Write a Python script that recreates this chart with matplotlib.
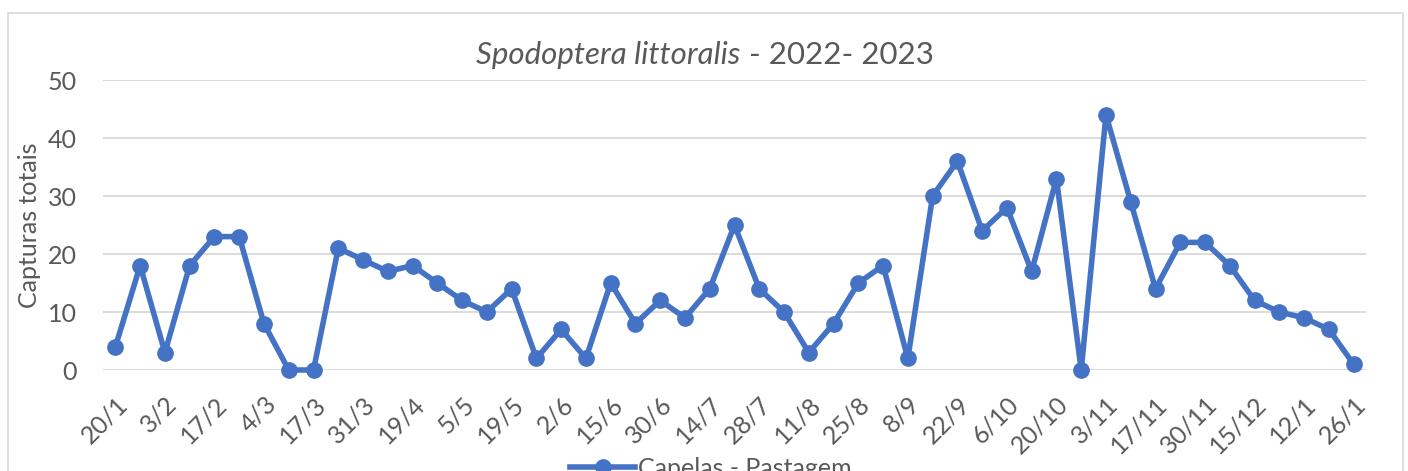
import matplotlib
matplotlib.use("Agg")
import matplotlib.pyplot as plt
from matplotlib.patches import Rectangle
from matplotlib.lines import Line2D

tick_labels = ["20/1", "3/2", "17/2", "4/3", "17/3", "31/3", "19/4", "5/5", "19/5",
               "2/6", "15/6", "30/6", "14/7", "28/7", "11/8", "25/8", "8/9", "22/9",
               "6/10", "20/10", "3/11", "17/11", "30/11", "15/12", "12/1", "26/1"]
values = [4, 18, 3, 18, 23, 23, 8, 0, 0, 21, 19, 17, 18, 15, 12, 10, 14, 2, 7, 2,
          15, 8, 12, 9, 14, 25, 14, 10, 3, 8, 15, 18, 2, 30, 36, 24, 28, 17, 33, 0,
          44, 29, 14, 22, 22, 18, 12, 10, 9, 7, 1]
series_name = "Capelas - Pastagem"
y_label = "Capturas totais"
yticks = [0, 10, 20, 30, 40, 50]

W, H = 1408, 471
plt.rcParams['font.family'] = ['Lato', 'DejaVu Sans']
fig = plt.figure(figsize=(W / 100, H / 100), dpi=100)
fig.patch.set_facecolor("white")

# chart border
fig.add_artist(Rectangle((8 / W, -0.05), (1403 - 8) / W, (H - 13) / H + 0.05,
                         transform=fig.transFigure, fill=False,
                         edgecolor="#d9d9d9", linewidth=1.2))

left, right = 103 / W, 1366 / W
bottom, top = (H - 370) / H, (H - 80) / H
ax = fig.add_axes([left, bottom, right - left, top - bottom])

color = "#4472C4"
gray = "#595959"
fs = 18
x = list(range(len(values)))
ax.plot(x, values, color=color, linewidth=4.0, marker="o", markersize=11,
        clip_on=False, zorder=3)

ax.set_xlim(-0.5, len(values) - 0.5)
ax.set_ylim(0, 50)
ax.set_yticks(yticks)
ax.set_yticklabels([str(v) for v in yticks])
ax.grid(axis="y", color="#d9d9d9", linewidth=1.3)
ax.set_axisbelow(True)
for s in ax.spines.values():
    s.set_visible(False)

tick_pos = list(range(0, len(values), 2))
ax.set_xticks(tick_pos)
ax.set_xticklabels(tick_labels, rotation=45, ha="right", va="top",
                   rotation_mode="anchor")
ax.tick_params(axis="x", length=0, pad=16, labelsize=fs, labelcolor=gray)
ax.tick_params(axis="y", length=0, pad=19, labelsize=fs, labelcolor=gray)

ax.set_ylabel(y_label, fontsize=fs, color=gray)
ax.yaxis.set_label_coords(-0.049, 0.5)

# title with italic part
fig.canvas.draw()
r = fig.canvas.get_renderer()
ty = (H - 55) / H
t1 = fig.text(0, ty, "Spodoptera littoralis", fontsize=22.5, style="italic",
              color=gray, va="center", ha="left")
t2 = fig.text(0, ty, " - 2022- 2023", fontsize=22.5, color=gray, va="center", ha="left")
w1 = t1.get_window_extent(r).width
w2 = t2.get_window_extent(r).width
x0 = 705 - (w1 + w2) / 2
t1.set_x(x0 / W)
t2.set_x((x0 + w1) / W)

# legend (partially cut off at bottom, as in the reference)
handle = Line2D([], [], color=color, linewidth=4.0, marker="o", markersize=11)
fig.legend([handle], [series_name], loc="upper center",
           bbox_to_anchor=(0.505, (H - 444) / H), frameon=False,
           fontsize=fs, labelcolor=gray, handlelength=2.6, handletextpad=0.1,
           borderpad=0.0)

fig.savefig("out.png", dpi=100, facecolor="white")
